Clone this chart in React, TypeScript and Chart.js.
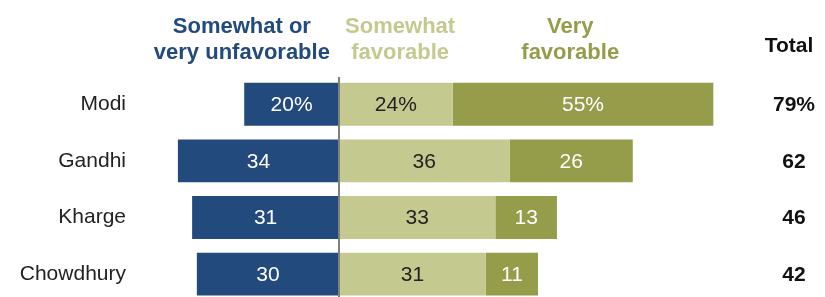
import React, { useEffect, useRef } from "react";
import { Chart, registerables } from "chart.js";

Chart.register(...registerables);

const categories = ["Modi", "Gandhi", "Kharge", "Chowdhury"];
const unfavorable = [20, 34, 31, 30];
const somewhatFavorable = [24, 36, 33, 31];
const veryFavorable = [55, 26, 13, 11];
const totals = [79, 62, 46, 42];

const BLUE = "#234a7c";
const LIGHT = "#c4c98f";
const OLIVE = "#959c4a";
const FONT = "'Liberation Sans', Arial, sans-serif";

const labelPlugin = {
  id: "labels",
  afterDatasetsDraw(chart: any) {
    const ctx = chart.ctx;
    const { chartArea, scales } = chart;
    const xs = scales.x;
    ctx.save();
    // zero line
    const zx = Math.round(xs.getPixelForValue(0));
    ctx.strokeStyle = "#808080";
    ctx.lineWidth = 2;
    ctx.beginPath();
    ctx.moveTo(zx, 77);
    ctx.lineTo(zx, chart.height);
    ctx.stroke();

    const colors = ["#ffffff", "#222222", "#ffffff"];
    const raw = [unfavorable, somewhatFavorable, veryFavorable];
    ctx.font = `21px ${FONT}`;
    ctx.textAlign = "center";
    ctx.textBaseline = "middle";
    chart.data.datasets.forEach((ds: any, di: number) => {
      const meta = chart.getDatasetMeta(di);
      meta.data.forEach((el: any, i: number) => {
        const v = raw[di][i];
        const txt = i === 0 ? `${v}%` : `${v}`;
        ctx.fillStyle = colors[di];
        ctx.fillText(txt, (el.x + el.base) / 2, el.y + 1);
      });
    });

    // totals
    ctx.font = `bold 21px ${FONT}`;
    ctx.fillStyle = "#111111";
    const meta0 = chart.getDatasetMeta(0);
    meta0.data.forEach((el: any, i: number) => {
      const txt = i === 0 ? `${totals[i]}%` : `${totals[i]}`;
      ctx.fillText(txt, chartArea.right + 57, el.y + 1);
    });

    // headers
    ctx.textBaseline = "alphabetic";
    ctx.font = `bold 22px ${FONT}`;
    ctx.fillStyle = BLUE;
    const h1 = xs.getPixelForValue(-20.5);
    ctx.fillText("Somewhat or", h1, 33);
    ctx.fillText("very unfavorable", h1, 59);
    ctx.fillStyle = LIGHT;
    const h2 = xs.getPixelForValue(12.9);
    ctx.fillText("Somewhat", h2, 33);
    ctx.fillText("favorable", h2, 59);
    ctx.fillStyle = OLIVE;
    const h3 = xs.getPixelForValue(48.8);
    ctx.fillText("Very", h3, 33);
    ctx.fillText("favorable", h3, 59);
    ctx.fillStyle = "#111111";
    ctx.font = `bold 21px ${FONT}`;
    ctx.fillText("Total", chartArea.right + 52, 52);
    ctx.restore();
  },
};

export default function App() {
  const ref = useRef<HTMLCanvasElement | null>(null);
  useEffect(() => {
    if (!ref.current) return;
    const chart = new Chart(ref.current, {
      type: "bar",
      data: {
        labels: categories,
        datasets: [
          { label: "Somewhat or very unfavorable", data: unfavorable.map((v) => -v), backgroundColor: BLUE },
          { label: "Somewhat favorable", data: somewhatFavorable, backgroundColor: LIGHT },
          { label: "Very favorable", data: veryFavorable, backgroundColor: OLIVE },
        ],
      },
      options: {
        indexAxis: "y",
        responsive: true,
        maintainAspectRatio: false,
        animation: false,
        devicePixelRatio: 1,
        layout: { padding: { left: 0, right: 88, top: 76, bottom: 0 } },
        datasets: { bar: { barPercentage: 0.758, categoryPercentage: 1 } },
        plugins: { legend: { display: false }, tooltip: { enabled: false } },
        scales: {
          x: { stacked: true, min: -42, max: 84, display: false },
          y: {
            stacked: true,
            grid: { display: false, drawTicks: false },
            border: { display: false },
            ticks: { padding: 14, color: "#222222", font: { size: 21, family: FONT } },
            afterFit: (s: any) => {
              s.width = 140;
            },
          },
        },
      } as any,
      plugins: [labelPlugin],
    });
    return () => chart.destroy();
  }, []);
  return (
    <div style={{ position: "fixed", left: 0, top: 0, width: 825, height: 297, overflow: "hidden", background: "#fff" }}>
      <div style={{ position: "relative", width: 825, height: 329 }}>
        <canvas ref={ref} />
      </div>
    </div>
  );
}
